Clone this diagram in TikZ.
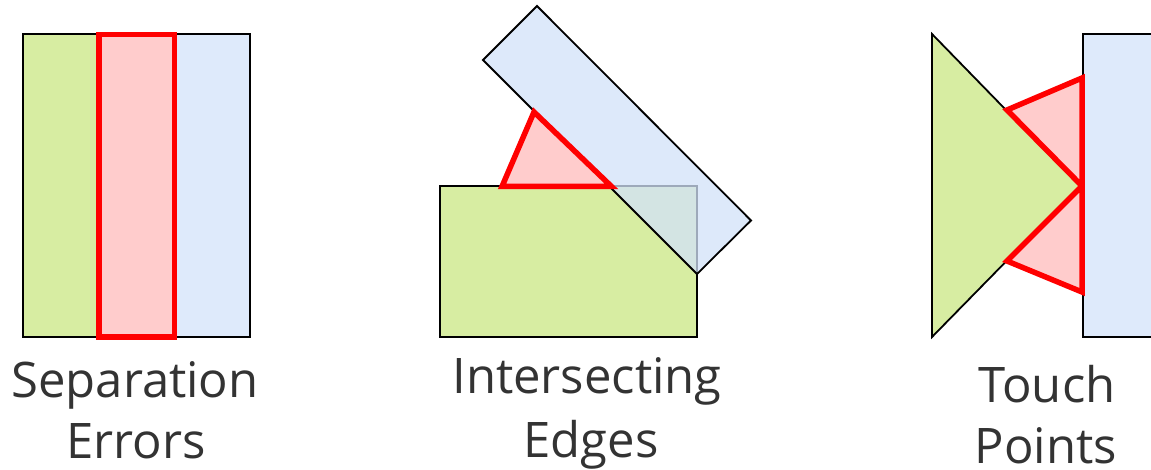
\documentclass[tikz,border=0pt]{standalone}
\usepackage{fontspec}
\setmainfont{Open Sans}
\definecolor{gfill}{HTML}{D7EDA2}
\definecolor{bfill}{HTML}{D2E2F9}
\definecolor{bsolid}{HTML}{DEEAFB}
\definecolor{rfill}{HTML}{FFCCCC}
\definecolor{rline}{HTML}{FF0000}
\definecolor{txt}{HTML}{333333}
\tikzset{
  gshape/.style={fill=gfill,draw=black,line width=1.8pt},
  bshape/.style={fill=bfill,fill opacity=0.75,draw=black,draw opacity=1,line width=1.8pt},
  bsolidshape/.style={fill=bsolid,draw=black,line width=1.8pt},
  rshape/.style={fill=rfill,draw=rline,line width=5.5pt,line join=miter},
  lbl/.style={anchor=base,text=txt,inner sep=0pt,text depth=0pt,font=\fontsize{49}{64}\selectfont}
}
\begin{document}
\begin{tikzpicture}[x=1pt,y=-1pt]
\clip (0,0) rectangle (1151,470);
\fill[white] (0,0) rectangle (1151,470);
% Panel 1: Separation Errors
\fill[gfill] (23,34) rectangle (137,337);
\fill[bsolid] (137,34) rectangle (250,337);
\draw[black,line width=1.8pt] (23,34) rectangle (250,337);
\draw[rshape] (99,34.5) rectangle (174.5,337);
% Panel 2: Intersecting Edges
\draw[gshape] (440,186) rectangle (697,337);
\draw[bshape] (537,6) -- (483,60) -- (697,274) -- (751,220.5) -- cycle;
\draw[rshape] (534,112) -- (502,186.5) -- (611.5,186.5) -- cycle;
% Panel 3: Touch Points
\draw[gshape] (932,34) -- (932,337) -- (1080,186) -- cycle;
\draw[bsolidshape] (1083,34) rectangle (1170,337);
\draw[rshape] (1082,78) -- (1007,110) -- (1082,186) -- cycle;
\draw[rshape] (1007,261) -- (1082,292) -- (1082,186) -- cycle;
% Labels
\node[lbl] (sepA) at (135,397) {Separation};
\node[lbl] (sepB) at (136,458) {Errors};
\node[lbl] (intA) at (587,393) {Intersecting};
\node[lbl] (intB) at (591,457) {Edges};
\node[lbl] (touA) at (1047,402) {Touch};
\node[lbl] (touB) at (1046,463) {Points};
\end{tikzpicture}
\end{document}
